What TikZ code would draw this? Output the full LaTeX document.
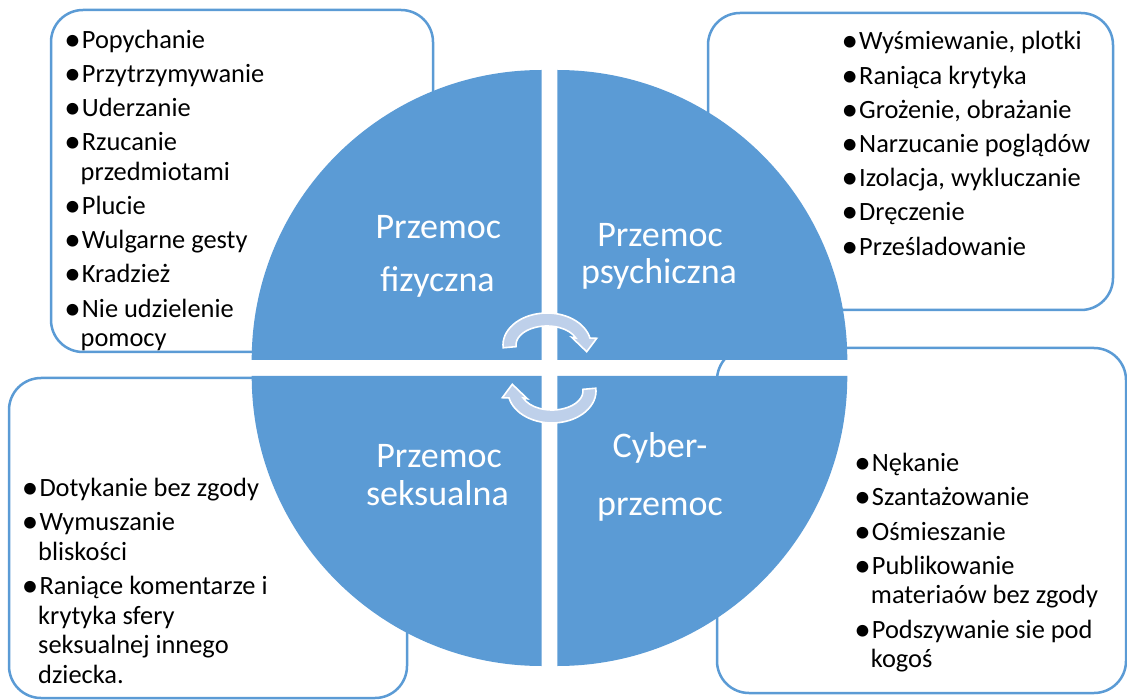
\documentclass[tikz,border=0pt]{standalone}
\usepackage{fontspec}
\setmainfont{Carlito}
\definecolor{qblue}{RGB}{91,155,213}
\definecolor{bline}{RGB}{91,155,213}
\definecolor{arrfill}{RGB}{190,208,234}
\newcommand{\bigbul}{\llap{\raisebox{-2pt}{\scalebox{1.25}{•}}\hspace{1.2pt}}}
\begin{document}
\begin{tikzpicture}[x=1pt,y=-1pt,
  framebox/.style={draw=bline, line width=2.5pt, fill=white, rounded corners=32pt, inner sep=0pt},
  quad/.style={fill=qblue},
  cyc/.style={fill=arrfill, draw=white, line width=1.6pt, line join=miter},
  li/.style={anchor=base west, inner sep=0pt, font=\fontsize{26.4}{30}\selectfont},
  lab/.style={anchor=base, inner sep=0pt, text=white, font=\fontsize{36}{40}\selectfont}]
\useasboundingbox (0,0) rectangle (1127,700);

% frames behind the circle
\node[framebox, minimum width=382pt, minimum height=342pt] (fizBox) at (242,181) {};
\node[framebox, minimum width=405pt, minimum height=297pt] (psyBox) at (910.5,161.5) {};
\node[framebox, minimum width=398pt, minimum height=320pt] (sekBox) at (208,538) {};
\node[framebox, minimum width=409pt, minimum height=345pt] (cybBox) at (921.5,520.5) {};

% quadrants
\fill[quad] (541.7,360) -- (251.7,360) arc[start angle=180, end angle=270, radius=290] -- cycle;
\fill[quad] (557.3,360) -- (557.3,70) arc[start angle=270, end angle=360, radius=290] -- cycle;
\fill[quad] (557.3,376) -- (847.3,376) arc[start angle=0, end angle=90, radius=290] -- cycle;
\fill[quad] (541.7,376) -- (541.7,666) arc[start angle=90, end angle=180, radius=290] -- cycle;

% circular arrows
\path[cyc] (503.17,347.79) arc[start angle=-185, end angle=-12.6, x radius=44, y radius=32]
  -- (596.7,338.3) -- (586.7,351.7) -- (571.7,337.3) -- (575.8,338.0)
  arc[start angle=-21.6, end angle=-185, x radius=31, y radius=19] -- cycle;
\begin{scope}[rotate around={180:(549.5,368)}]
\path[cyc] (503.17,347.79) arc[start angle=-185, end angle=-12.6, x radius=44, y radius=32]
  -- (596.7,338.3) -- (586.7,351.7) -- (571.7,337.3) -- (575.8,338.0)
  arc[start angle=-21.6, end angle=-185, x radius=31, y radius=19] -- cycle;
\end{scope}

% quadrant labels
\node[lab] (fizL1) at (438.3,239) {Przemoc};
\node[lab] (fizL2) at (437.5,291.7) {fizyczna};
\node[lab] (psyL1) at (660,246.7) {Przemoc};
\node[lab] (psyL2) at (659,284) {psychiczna};
\node[lab] (sekL1) at (439,467.3) {Przemoc};
\node[lab] (sekL2) at (437.5,505) {seksualna};
\node[lab] (cybL1) at (660,457.3) {Cyber-};
\node[lab] (cybL2) at (660,515) {przemoc};

% top-left list
\node[li] (tl1) at (81.7,48.3) {\bigbul Popychanie};
\node[li] (tl2) at (81.7,82.5) {\bigbul Przytrzymywanie};
\node[li] (tl3) at (81.7,116.7) {\bigbul Uderzanie};
\node[li] (tl4) at (81.7,150.9) {\bigbul Rzucanie};
\node[li] (tl4b) at (80.5,180.4) {przedmiotami};
\node[li] (tl5) at (81.7,214.6) {\bigbul Plucie};
\node[li] (tl6) at (81.7,248.8) {\bigbul Wulgarne gesty};
\node[li] (tl7) at (81.7,283) {\bigbul Kradzież};
\node[li] (tl8) at (81.7,317.2) {\bigbul Nie udzielenie};
\node[li] (tl8b) at (80.5,346.7) {pomocy};

% top-right list
\node[li] (tr1) at (859,50) {\bigbul Wyśmiewanie, plotki};
\node[li] (tr2) at (859,84.2) {\bigbul Raniąca krytyka};
\node[li] (tr3) at (859,118.4) {\bigbul Grożenie, obrażanie};
\node[li] (tr4) at (859,152.6) {\bigbul Narzucanie poglądów};
\node[li] (tr5) at (859,186.8) {\bigbul Izolacja, wykluczanie};
\node[li] (tr6) at (859,221) {\bigbul Dręczenie};
\node[li] (tr7) at (859,255.2) {\bigbul Prześladowanie};

% bottom-left list
\node[li] (bl1) at (39.3,496.7) {\bigbul Dotykanie bez zgody};
\node[li] (bl2) at (39.3,530.9) {\bigbul Wymuszanie};
\node[li] (bl2b) at (38,560.4) {bliskości};
\node[li] (bl3) at (39.3,594.6) {\bigbul Raniące komentarze i};
\node[li] (bl3b) at (38,624.1) {krytyka sfery};
\node[li] (bl3c) at (38,653.6) {seksualnej innego};
\node[li] (bl3d) at (38,683.1) {dziecka.};

% bottom-right list
\node[li] (br1) at (871.7,471.7) {\bigbul Nękanie};
\node[li] (br2) at (871.7,505.9) {\bigbul Szantażowanie};
\node[li] (br3) at (871.7,540.1) {\bigbul Ośmieszanie};
\node[li] (br4) at (871.7,574.3) {\bigbul Publikowanie};
\node[li] (br4b) at (870.7,603.8) {materiaów bez zgody};
\node[li] (br5) at (871.7,638) {\bigbul Podszywanie sie pod};
\node[li] (br5b) at (870.7,667.5) {kogoś};
\end{tikzpicture}
\end{document}
